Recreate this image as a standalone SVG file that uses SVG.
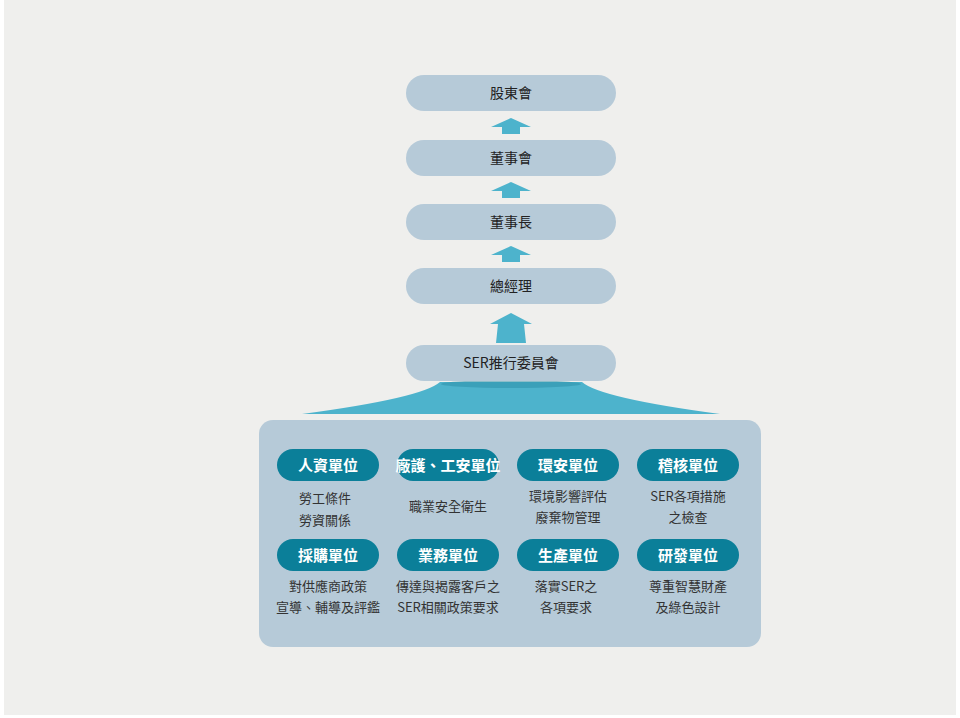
<svg xmlns="http://www.w3.org/2000/svg" width="960" height="718" viewBox="0 0 960 718">
<style>
.box{fill:#b6cad8}
.t{font-family:"Noto Sans CJK TC","Noto Sans CJK SC",sans-serif;font-size:14px;fill:#222;text-anchor:middle}
.pill{fill:#0b7f99}
.pt{font-family:"Noto Sans CJK TC",sans-serif;font-size:15px;font-weight:bold;fill:#fff;text-anchor:middle}
.d{font-family:"Noto Sans CJK TC",sans-serif;font-size:13px;fill:#333;text-anchor:middle}
.ar{fill:#4db3cc}
</style>
<rect width="960" height="718" fill="#fff"/>
<rect x="4" y="0" width="952" height="715" fill="#efefed"/>
<g id="connectors">
<polygon class="ar" points="511,118 531,127 520,127 520,134 502,134 502,127 491,127"/>
<polygon class="ar" points="511,182 531,191 520,191 520,198 502,198 502,191 491,191"/>
<polygon class="ar" points="511,246 531,255 520,255 520,262 502,262 502,255 491,255"/>
<polygon class="ar" points="511,313 532,324 524,324 526,343 496,343 498,324 490,324"/>
<path class="ar" d="M440,382 L582,382 Q600,398 720,414 L302,414 Q422,398 440,382 Z"/>
<ellipse cx="511" cy="384" rx="70" ry="4" fill="#2a8da6" opacity="0.5"/>
</g>
<g id="n1"><rect class="box" x="406" y="75" width="210" height="36" rx="18"/><text class="t" x="511" y="98">股東會</text></g>
<g id="n2"><rect class="box" x="406" y="140" width="210" height="36" rx="18"/><text class="t" x="511" y="163">董事會</text></g>
<g id="n3"><rect class="box" x="406" y="204" width="210" height="36" rx="18"/><text class="t" x="511" y="227">董事長</text></g>
<g id="n4"><rect class="box" x="406" y="268" width="210" height="36" rx="18"/><text class="t" x="511" y="291">總經理</text></g>
<g id="n5"><rect class="box" x="406" y="345" width="210" height="36" rx="18"/><text class="t" x="511" y="368">SER推行委員會</text></g>
<g id="panel"><rect class="box" x="259" y="420" width="502" height="227" rx="14"/></g>
<g id="u1"><rect class="pill" x="277" y="449" width="102" height="32" rx="16"/><text class="pt" x="328" y="471">人資單位</text><text class="d" x="325" y="503">勞工條件</text><text class="d" x="325" y="525">勞資關係</text></g>
<g id="u2"><rect class="pill" x="397" y="449" width="102" height="32" rx="16"/><text class="pt" x="448" y="471" font-size="14">廠護、工安單位</text><text class="d" x="448" y="511">職業安全衛生</text></g>
<g id="u3"><rect class="pill" x="517" y="449" width="102" height="32" rx="16"/><text class="pt" x="568" y="471">環安單位</text><text class="d" x="568" y="501">環境影響評估</text><text class="d" x="568" y="522">廢棄物管理</text></g>
<g id="u4"><rect class="pill" x="637" y="449" width="102" height="32" rx="16"/><text class="pt" x="688" y="471">稽核單位</text><text class="d" x="688" y="501">SER各項措施</text><text class="d" x="688" y="522">之檢查</text></g>
<g id="u5"><rect class="pill" x="277" y="539" width="102" height="32" rx="16"/><text class="pt" x="328" y="561">採購單位</text><text class="d" x="328" y="591">對供應商政策</text><text class="d" x="328" y="612">宣導、輔導及評鑑</text></g>
<g id="u6"><rect class="pill" x="397" y="539" width="102" height="32" rx="16"/><text class="pt" x="448" y="561">業務單位</text><text class="d" x="448" y="591">傳達與揭露客戶之</text><text class="d" x="448" y="612">SER相關政策要求</text></g>
<g id="u7"><rect class="pill" x="517" y="539" width="102" height="32" rx="16"/><text class="pt" x="568" y="561">生產單位</text><text class="d" x="566" y="591">落實SER之</text><text class="d" x="566" y="612">各項要求</text></g>
<g id="u8"><rect class="pill" x="637" y="539" width="102" height="32" rx="16"/><text class="pt" x="688" y="561">研發單位</text><text class="d" x="688" y="591">尊重智慧財產</text><text class="d" x="688" y="612">及綠色設計</text></g>
</svg>
